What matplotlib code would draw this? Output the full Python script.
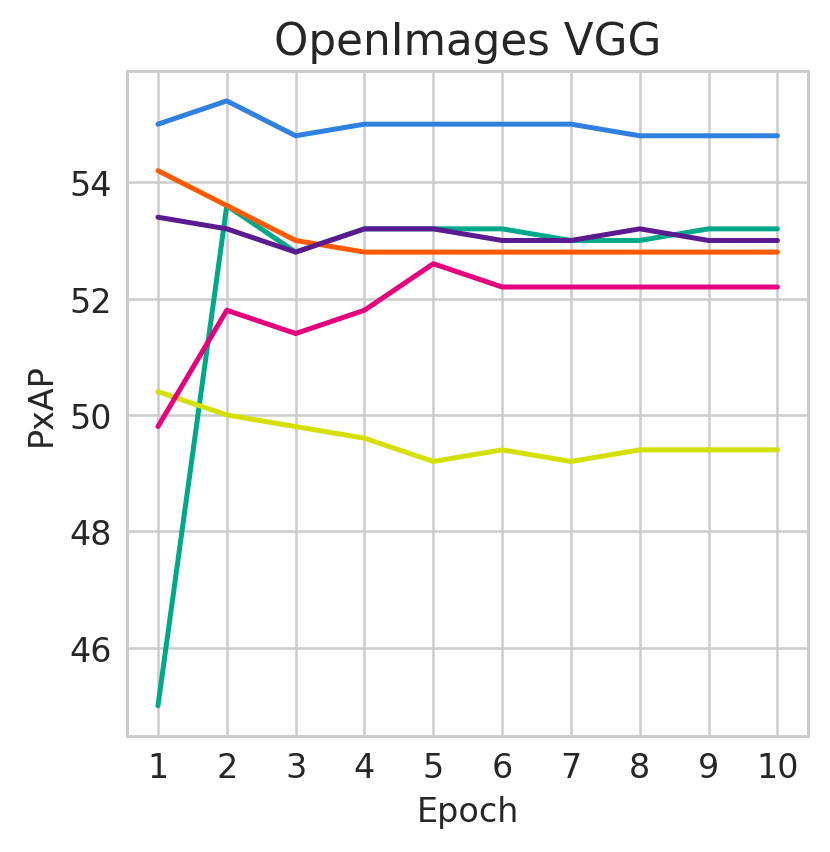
import matplotlib
matplotlib.use("Agg")
import matplotlib.pyplot as plt
import seaborn as sns

epochs = [1, 2, 3, 4, 5, 6, 7, 8, 9, 10]
green = [45.0, 53.6, 52.8, 53.2, 53.2, 53.2, 53.0, 53.0, 53.2, 53.2]
yellow = [50.4, 50.0, 49.8, 49.6, 49.2, 49.4, 49.2, 49.4, 49.4, 49.4]
pink = [49.8, 51.8, 51.4, 51.8, 52.6, 52.2, 52.2, 52.2, 52.2, 52.2]
orange = [54.2, 53.6, 53.0, 52.8, 52.8, 52.8, 52.8, 52.8, 52.8, 52.8]
purple = [53.4, 53.2, 52.8, 53.2, 53.2, 53.0, 53.0, 53.2, 53.0, 53.0]
blue = [55.0, 55.4, 54.8, 55.0, 55.0, 55.0, 55.0, 54.8, 54.8, 54.8]

sns.set_style("whitegrid")
plt.rcParams['font.family'] = ['DejaVu Sans']

fig = plt.figure(figsize=(4.15, 4.265), dpi=200)
ax = fig.add_axes([0.153, 0.136, 0.821, 0.780])

lw = 1.8
ax.plot(epochs, green, color="#00a88a", lw=lw)
ax.plot(epochs, yellow, color="#d4e000", lw=lw)
ax.plot(epochs, pink, color="#e5007d", lw=lw)
ax.plot(epochs, orange, color="#ff5a00", lw=lw)
ax.plot(epochs, purple, color="#5b1a8f", lw=lw)
ax.plot(epochs, blue, color="#2f80e0", lw=lw)

ax.set_xticks(epochs)
ax.set_yticks([46, 48, 50, 52, 54])
ax.grid(True, color="#cccccc", lw=0.9)
for s in ax.spines.values():
    s.set_color("#cccccc")
    s.set_linewidth(1.1)
ax.tick_params(labelsize=12, colors="#262626", pad=2)
ax.set_xlabel("Epoch", fontsize=12, color="#262626", labelpad=4)
ax.set_ylabel("PxAP", fontsize=12, color="#262626", labelpad=4)
ax.set_title("OpenImages VGG", fontsize=15.7, color="#262626", pad=6)

fig.savefig("out.png", dpi=200)
